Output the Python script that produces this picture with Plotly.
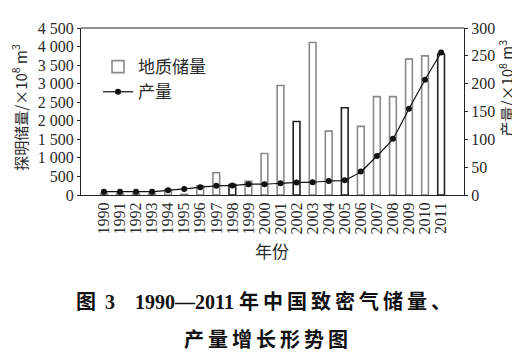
import plotly.graph_objects as go

years = [str(y) for y in range(1990, 2012)]
reserves = [40, 40, 40, 40, 150, 20, 250, 600, 280, 370, 1120, 2950, 1980, 4110,
            1720, 2350, 1850, 2650, 2650, 3660, 3750, 3800]
production = [6, 6, 6, 6, 8.5, 11, 14, 16.5, 17, 19.5, 19.5, 21, 22.5, 23, 25,
              26.5, 42, 70, 101, 155, 207, 256]
left_ticks = [0, 500, 1000, 1500, 2000, 2500, 3000, 3500, 4000, 4500]
left_tick_text = ["0", "500", "1 000", "1 500", "2 000", "2 500", "3 000",
                  "3 500", "4 000", "4 500"]
right_ticks = [0, 50, 100, 150, 200, 250, 300]

dark_years = {"1998", "2002", "2005", "2011"}
bar_line_colors = ["#222" if y in dark_years else "#8a8a8a" for y in years]

SERIF = "Liberation Serif, Times New Roman, Noto Sans CJK SC"
CJK = "Noto Sans CJK SC, Liberation Serif"
TXT = "#2a2a2a"

# page body has an 8px default margin; work in page pixels and convert
OFF = 8
W, H = 520 - OFF, 357 - OFF
L, R, T, B = 81, 464, 21, 195
pw, ph = R - L, B - T


def px(x):
    return (x - L) / pw


def py(y):
    return (B - y) / ph


TS = "\u2009"

fig = go.Figure()
fig.add_trace(go.Bar(
    x=years, y=reserves, name="地质储量", width=0.42,
    marker=dict(color="white", line=dict(color=bar_line_colors, width=1.6)),
    yaxis="y",
))
fig.add_trace(go.Scatter(
    x=years, y=production, name="产量", mode="lines+markers",
    line=dict(color="#111", width=1.2, shape="spline", smoothing=0.5),
    marker=dict(color="#111", size=6, symbol="circle"),
    yaxis="y2",
))

cap1 = ("<b>图" + TS + " 3\u00a0\u00a0\u00a0 1990—2011 "
        + TS.join("年中国致密气储量、") + "</b>")
cap2 = "<b>" + TS.join("产量增长形势图") + "</b>"

fig.update_layout(
    width=W, height=H,
    margin=dict(l=L - OFF, r=520 - R, t=T - OFF, b=357 - B, pad=0),
    paper_bgcolor="white", plot_bgcolor="white",
    showlegend=True,
    legend=dict(
        x=px(98), y=py(43), xanchor="left", yanchor="top",
        bgcolor="rgba(0,0,0,0)", font=dict(family=CJK, size=17, color=TXT),
        itemwidth=30, tracegroupgap=0,
    ),
    xaxis=dict(
        type="category", tickangle=-90, showline=True, linecolor="#222",
        linewidth=1.2, ticks="", showgrid=False,
        tickmode="array", tickvals=years, ticktext=years,
        tickfont=dict(family=SERIF, size=16, color=TXT),
    ),
    yaxis=dict(
        range=[0, 4500], tickvals=left_ticks, ticktext=left_tick_text,
        showline=True, linecolor="#222", linewidth=1.2, ticks="outside",
        ticklen=3, tickcolor="#222", showgrid=False, zeroline=False,
        tickfont=dict(family=SERIF, size=16, color=TXT),
    ),
    yaxis2=dict(
        range=[0, 300], tickvals=right_ticks, overlaying="y", side="right",
        showline=True, linecolor="#222", linewidth=1.2, ticks="outside",
        ticklen=3, tickcolor="#222", showgrid=False, zeroline=False,
        tickfont=dict(family=SERIF, size=16, color=TXT),
    ),
    shapes=[dict(type="line", xref="paper", yref="paper", x0=0, x1=1, y0=1, y1=1,
                 line=dict(color="#222", width=1.2))],
    annotations=[
        dict(text="探明储量/×10<sup>8</sup> m<sup>3</sup>", xref="paper", yref="paper",
             x=px(19), y=py(104), textangle=-90, showarrow=False,
             font=dict(family=CJK, size=15, color=TXT), xanchor="center", yanchor="middle"),
        dict(text="产量/×10<sup>8</sup> m<sup>3</sup>", xref="paper", yref="paper",
             x=px(506), y=py(84), textangle=-90, showarrow=False,
             font=dict(family=CJK, size=15, color=TXT), xanchor="center", yanchor="middle"),
        dict(text="年份", xref="paper", yref="paper", x=px(272), y=py(253),
             showarrow=False, font=dict(family=CJK, size=17, color=TXT),
             xanchor="center", yanchor="middle"),
        dict(text=cap1, xref="paper", yref="paper", x=px(263), y=py(306),
             showarrow=False, font=dict(family=SERIF, size=20, color="#111"),
             xanchor="center", yanchor="middle"),
        dict(text=cap2, xref="paper", yref="paper", x=px(266), y=py(344),
             showarrow=False, font=dict(family=CJK, size=20, color="#111"),
             xanchor="center", yanchor="middle"),
    ],
)

fig.write_html("out.html")
